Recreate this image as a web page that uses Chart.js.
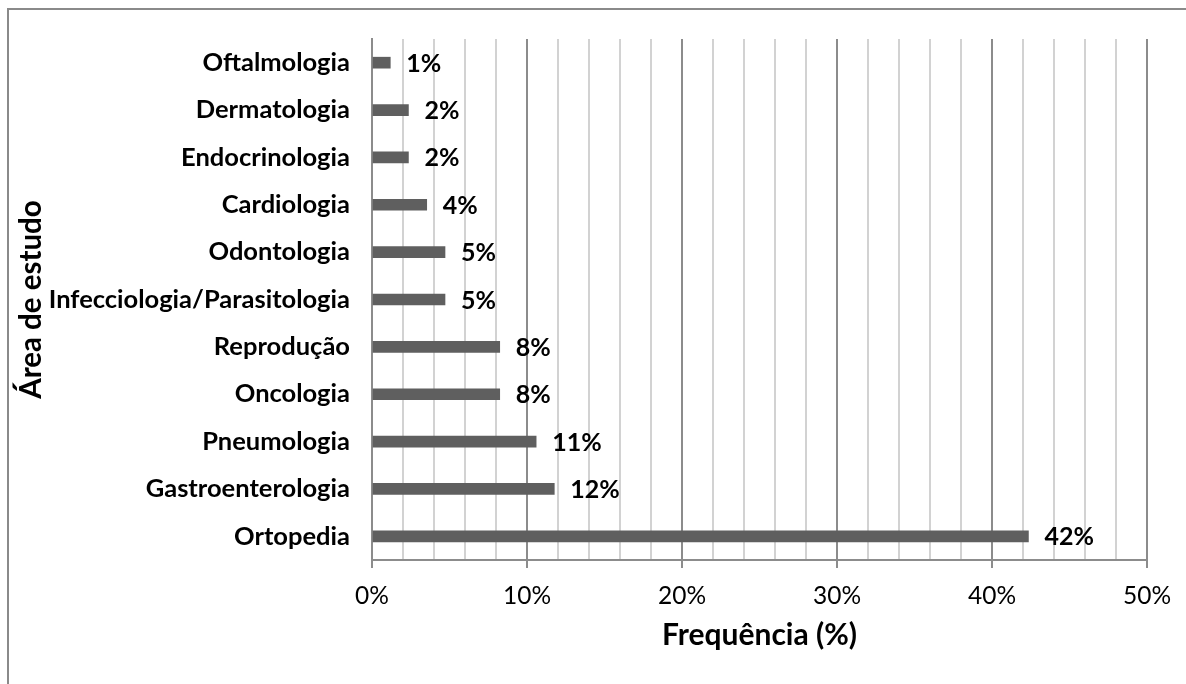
<!DOCTYPE html>
<html>
<head>
<meta charset="utf-8">
<script src="https://cdn.jsdelivr.net/npm/chart.js@4.4.1/dist/chart.umd.min.js"></script>
<style>
  html, body { margin: 0; padding: 0; background: #ffffff; }
  #wrap { position: relative; width: 1186px; height: 684px; overflow: hidden; }
  #frame { position: absolute; left: 7px; top: 8px; width: 1300px; height: 800px; border-left: 2px solid #8a8a8a; border-top: 2px solid #8a8a8a; }
  #c { position: absolute; left: 0; top: 0; }
</style>
</head>
<body>
<div id="wrap">
  <div id="frame"></div>
  <canvas id="c" width="1186" height="684"></canvas>
</div>
<script>
const categories = ['Oftalmologia', 'Dermatologia', 'Endocrinologia', 'Cardiologia', 'Odontologia',
  'Infecciologia/Parasitologia', 'Reprodução', 'Oncologia', 'Pneumologia', 'Gastroenterologia', 'Ortopedia'];
const frequencies = [1.18, 2.35, 2.35, 3.53, 4.71, 4.71, 8.24, 8.24, 10.59, 11.76, 42.35];
const valueLabels = ['1%', '2%', '2%', '4%', '5%', '5%', '8%', '8%', '11%', '12%', '42%'];
const xTickLabels = ['0%', '10%', '20%', '30%', '40%', '50%'];
const xTitle = 'Frequência (%)';
const yTitle = 'Área de estudo';

const FONT = 'Lato, "Open Sans", sans-serif';

const valueLabelPlugin = {
  id: 'valueLabels',
  afterDatasetsDraw(chart) {
    const ctx = chart.ctx;
    const meta = chart.getDatasetMeta(0);
    ctx.save();
    ctx.font = 'bold 25px ' + FONT;
    ctx.fillStyle = '#000000';
    ctx.textAlign = 'left';
    ctx.textBaseline = 'middle';
    meta.data.forEach((bar, i) => {
      ctx.fillText(valueLabels[i], bar.x + 16, bar.y + 1);
    });
    ctx.restore();
  }
};

new Chart(document.getElementById('c'), {
  type: 'bar',
  data: {
    labels: categories,
    datasets: [{
      data: frequencies,
      backgroundColor: '#5f5f5f',
      borderWidth: 0,
      barThickness: 11
    }]
  },
  options: {
    indexAxis: 'y',
    responsive: false,
    animation: false,
    devicePixelRatio: 1,
    layout: { padding: { left: 0, right: 39, top: 39, bottom: 0 } },
    plugins: { legend: { display: false }, tooltip: { enabled: false } },
    scales: {
      x: {
        min: 0, max: 50,
        afterFit(scale) { scale.height = 124; },
        ticks: {
          stepSize: 2,
          autoSkip: false,
          maxRotation: 0,
          padding: 13,
          color: '#000000',
          font: { family: FONT, size: 24.5 },
          callback(v) { return (v % 10 === 0) ? xTickLabels[v / 10] : ''; }
        },
        grid: {
          color(c) { return (c.tick && c.tick.value % 10 === 0) ? '#8c8c8c' : '#d2d2d2'; },
          lineWidth: 2,
          tickLength: 8,
          tickColor(c) { return (c.tick && c.tick.value % 10 === 0) ? '#8c8c8c' : 'rgba(0,0,0,0)'; },
          tickWidth: 2
        },
        border: { display: true, color: '#8c8c8c', width: 2 },
        title: {
          display: true,
          text: xTitle,
          color: '#000000',
          font: { family: FONT, size: 30, weight: 'bold' },
          padding: { top: 0, bottom: 31 }
        }
      },
      y: {
        afterFit(scale) { scale.width = 372; },
        ticks: {
          padding: 22,
          color: '#000000',
          font: { family: FONT, size: 25.5, weight: 'bold' }
        },
        grid: { display: false, drawTicks: false },
        border: { display: true, color: '#8c8c8c', width: 2 },
        title: {
          display: true,
          text: yTitle,
          color: '#000000',
          font: { family: FONT, size: 29.5, weight: 'bold' },
          padding: { top: 14, bottom: 0 }
        }
      }
    }
  },
  plugins: [valueLabelPlugin]
});
</script>
</body>
</html>
